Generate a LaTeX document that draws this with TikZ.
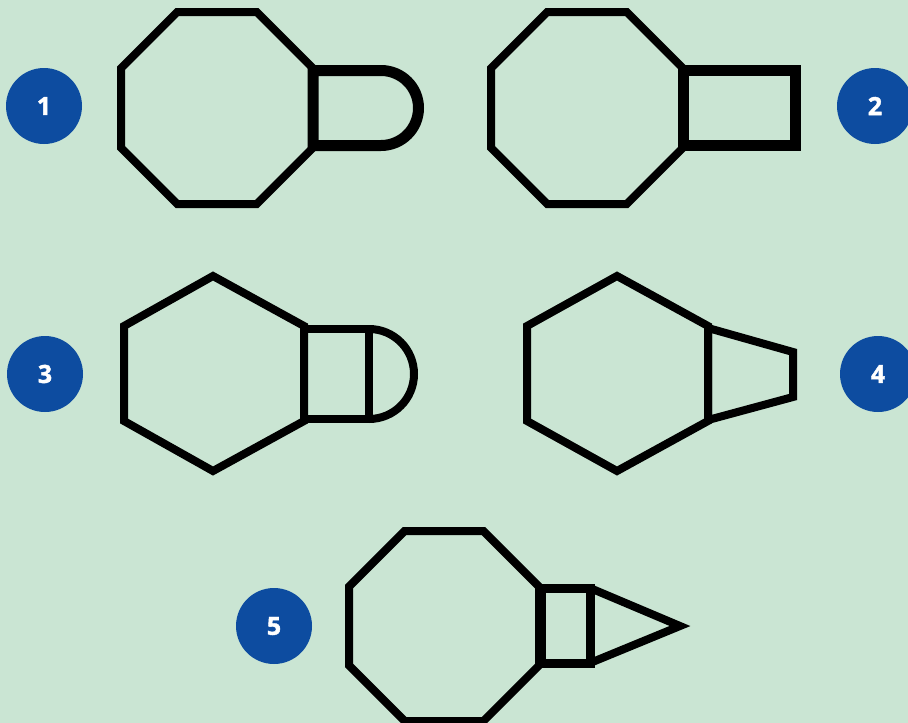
\documentclass[tikz,border=0pt]{standalone}
\usepackage{fontspec}
\setmainfont{Open Sans}[BoldFont={* Bold}]
\newfontfamily\numfont{Open Sans}[BoldFont={* Bold},BoldFeatures={FakeBold=1.6}]
\definecolor{bg}{HTML}{CAE5D3}
\definecolor{numblue}{HTML}{0D4CA0}
\begin{document}
\begin{tikzpicture}[x=1pt,y=-1pt,
  numcirc/.style={circle,fill=numblue,minimum size=76pt,inner sep=0pt,text=white,font=\numfont\fontsize{25}{25}\selectfont\bfseries},
  shp/.style={draw=black,line width=8pt,line join=miter},
  thick shp/.style={draw=black,line width=11pt,line join=miter}]
\fill[bg] (0,0) rectangle (908,723);
\useasboundingbox (0,0) rectangle (908,723);
% number badges
\node[numcirc] (n1) at (44,106) {1};
\node[numcirc] (n2) at (875,106) {2};
\node[numcirc] (n3) at (45,374) {3};
\node[numcirc] (n4) at (878,374) {4};
\node[numcirc] (n5) at (274,626) {5};
% figure 1: octagon + rounded tab
\draw[shp] (177.2,12) -- (256.8,12) -- (313,68.2) -- (313,147.8) -- (256.8,204) -- (177.2,204) -- (121,147.8) -- (121,68.2) -- cycle;
\draw[thick shp] (313,70.5) -- (381,70.5) arc[start angle=-90,end angle=90,radius=37.5] -- (313,145.5) -- cycle;
% figure 2: octagon + rectangle
\draw[shp] (547.2,12) -- (626.8,12) -- (683,68.2) -- (683,147.8) -- (626.8,204) -- (547.2,204) -- (491,147.8) -- (491,68.2) -- cycle;
\draw[thick shp] (683,70.5) rectangle (795,145.5);
% figure 3: hexagon + square + half disc
\draw[shp] (213,276) -- (304,326) -- (304,421) -- (213,471) -- (124,421) -- (124,326) -- cycle;
\draw[shp] (304,329) rectangle (369,419);
\draw[shp] (369,329) arc[start angle=-90,end angle=90,radius=45];
% figure 4: hexagon + trapezoid
\draw[shp] (617,276) -- (708,326) -- (708,421) -- (617,471) -- (527,421) -- (527,326) -- cycle;
\draw[shp] (708,328) -- (793,352) -- (793,397) -- (708,420) -- cycle;
% figure 5: octagon + square + triangle
\draw[shp] (404.6,531) -- (483.4,531) -- (539,586.6) -- (539,665.4) -- (483.4,721) -- (404.6,721) -- (349,665.4) -- (349,586.6) -- cycle;
\draw[line width=9pt,draw=black] (541,588) rectangle (590,663);
\draw[shp] (590,588) -- (680,626) -- (590,663);
\end{tikzpicture}
\end{document}
